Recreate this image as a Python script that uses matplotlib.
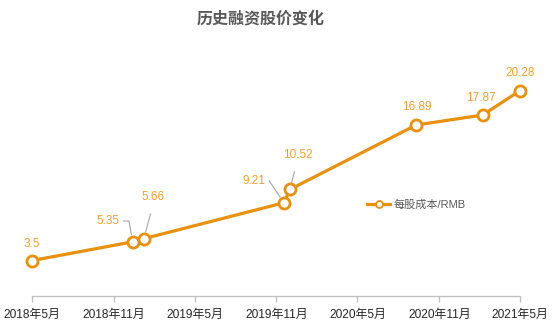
import datetime as dt
import matplotlib
matplotlib.use("Agg")
import matplotlib.pyplot as plt

plt.rcParams['font.family'] = ['Liberation Sans', 'Noto Sans CJK SC', 'DejaVu Sans']

# data
dates = ["2018-05-01", "2018-12-13", "2019-01-07", "2019-11-18",
         "2019-12-01", "2020-09-10", "2021-02-06", "2021-05-01"]
cost = [3.5, 5.35, 5.66, 9.21, 10.52, 16.89, 17.87, 20.28]
tick_dates = ["2018-05-01", "2018-11-01", "2019-05-01", "2019-11-01",
              "2020-05-01", "2020-11-01", "2021-05-01"]
tick_labels = ["2018年5月", "2018年11月", "2019年5月", "2019年11月",
               "2020年5月", "2020年11月", "2021年5月"]
title = "历史融资股价变化"
series_name = "每股成本/RMB"

# label layout: offset in points, and leader style (None / 'straight' / angle)
label_offsets = [(0, 12), (-18, 15), (7, 30), (-22, 16),
                 (5.5, 25), (0.5, 12.7), (-1.2, 12), (0, 12.5)]
leaders = [None, 100, "straight", 124, "straight", None, None, None]

orange = "#E8900F"
label_col = "#F0A030"
gray = "#595959"

x = [dt.datetime.strptime(d, "%Y-%m-%d") for d in dates]
xt = [dt.datetime.strptime(d, "%Y-%m-%d") for d in tick_dates]

fig = plt.figure(figsize=(5.54, 3.27), dpi=100)
ax = fig.add_axes([32 / 554, 31 / 327, 488 / 554, 243 / 327])

ax.plot(x, cost, color=orange, lw=2.3, marker="o", ms=8,
        mfc="white", mec=orange, mew=2, label=series_name, zorder=3,
        clip_on=False)

for xi, yi, (dx, dy), ld in zip(x, cost, label_offsets, leaders):
    kw = {}
    if ld == "straight":
        kw["arrowprops"] = dict(arrowstyle="-", color="#A6A6A6", lw=0.8,
                                shrinkA=6, shrinkB=5, relpos=(0.5, 0))
    elif ld is not None:
        kw["arrowprops"] = dict(arrowstyle="-", color="#A6A6A6", lw=0.8,
                                shrinkA=1, shrinkB=5, relpos=(1, 0.5),
                                connectionstyle=f"angle,angleA=0,angleB={ld},rad=0")
    ax.annotate(f"{yi:g}", (xi, yi), xytext=(dx, dy), textcoords="offset points",
                ha="center", va="center", fontsize=8.5, color=label_col, **kw)

ax.set_xlim(xt[0], xt[-1])
ax.set_ylim(0, 24)
ax.set_xticks(xt)
ax.set_xticklabels(tick_labels, fontsize=8.6, color="#262626")
ax.tick_params(axis="x", length=4, color="#BFBFBF", width=0.9, pad=5)
ax.set_yticks([])
for s in ["top", "right", "left"]:
    ax.spines[s].set_visible(False)
ax.spines["bottom"].set_color("#BFBFBF")
ax.spines["bottom"].set_linewidth(0.9)

leg = ax.legend(loc="center left", bbox_to_anchor=(0.675, 0.374), frameon=False,
                fontsize=8, handlelength=2.1, handletextpad=0.3, borderpad=0)
for t in leg.get_texts():
    t.set_color(gray)
for h in leg.legend_handles:
    h.set_markersize(5)
    h.set_markeredgewidth(1.3)

fig.text(261 / 554, 1 - 18 / 327, title, ha="center", va="center", fontsize=11.5,
         fontweight="bold", color=gray, family=["Noto Sans CJK SC"])

fig.savefig("out.png", dpi=100)
